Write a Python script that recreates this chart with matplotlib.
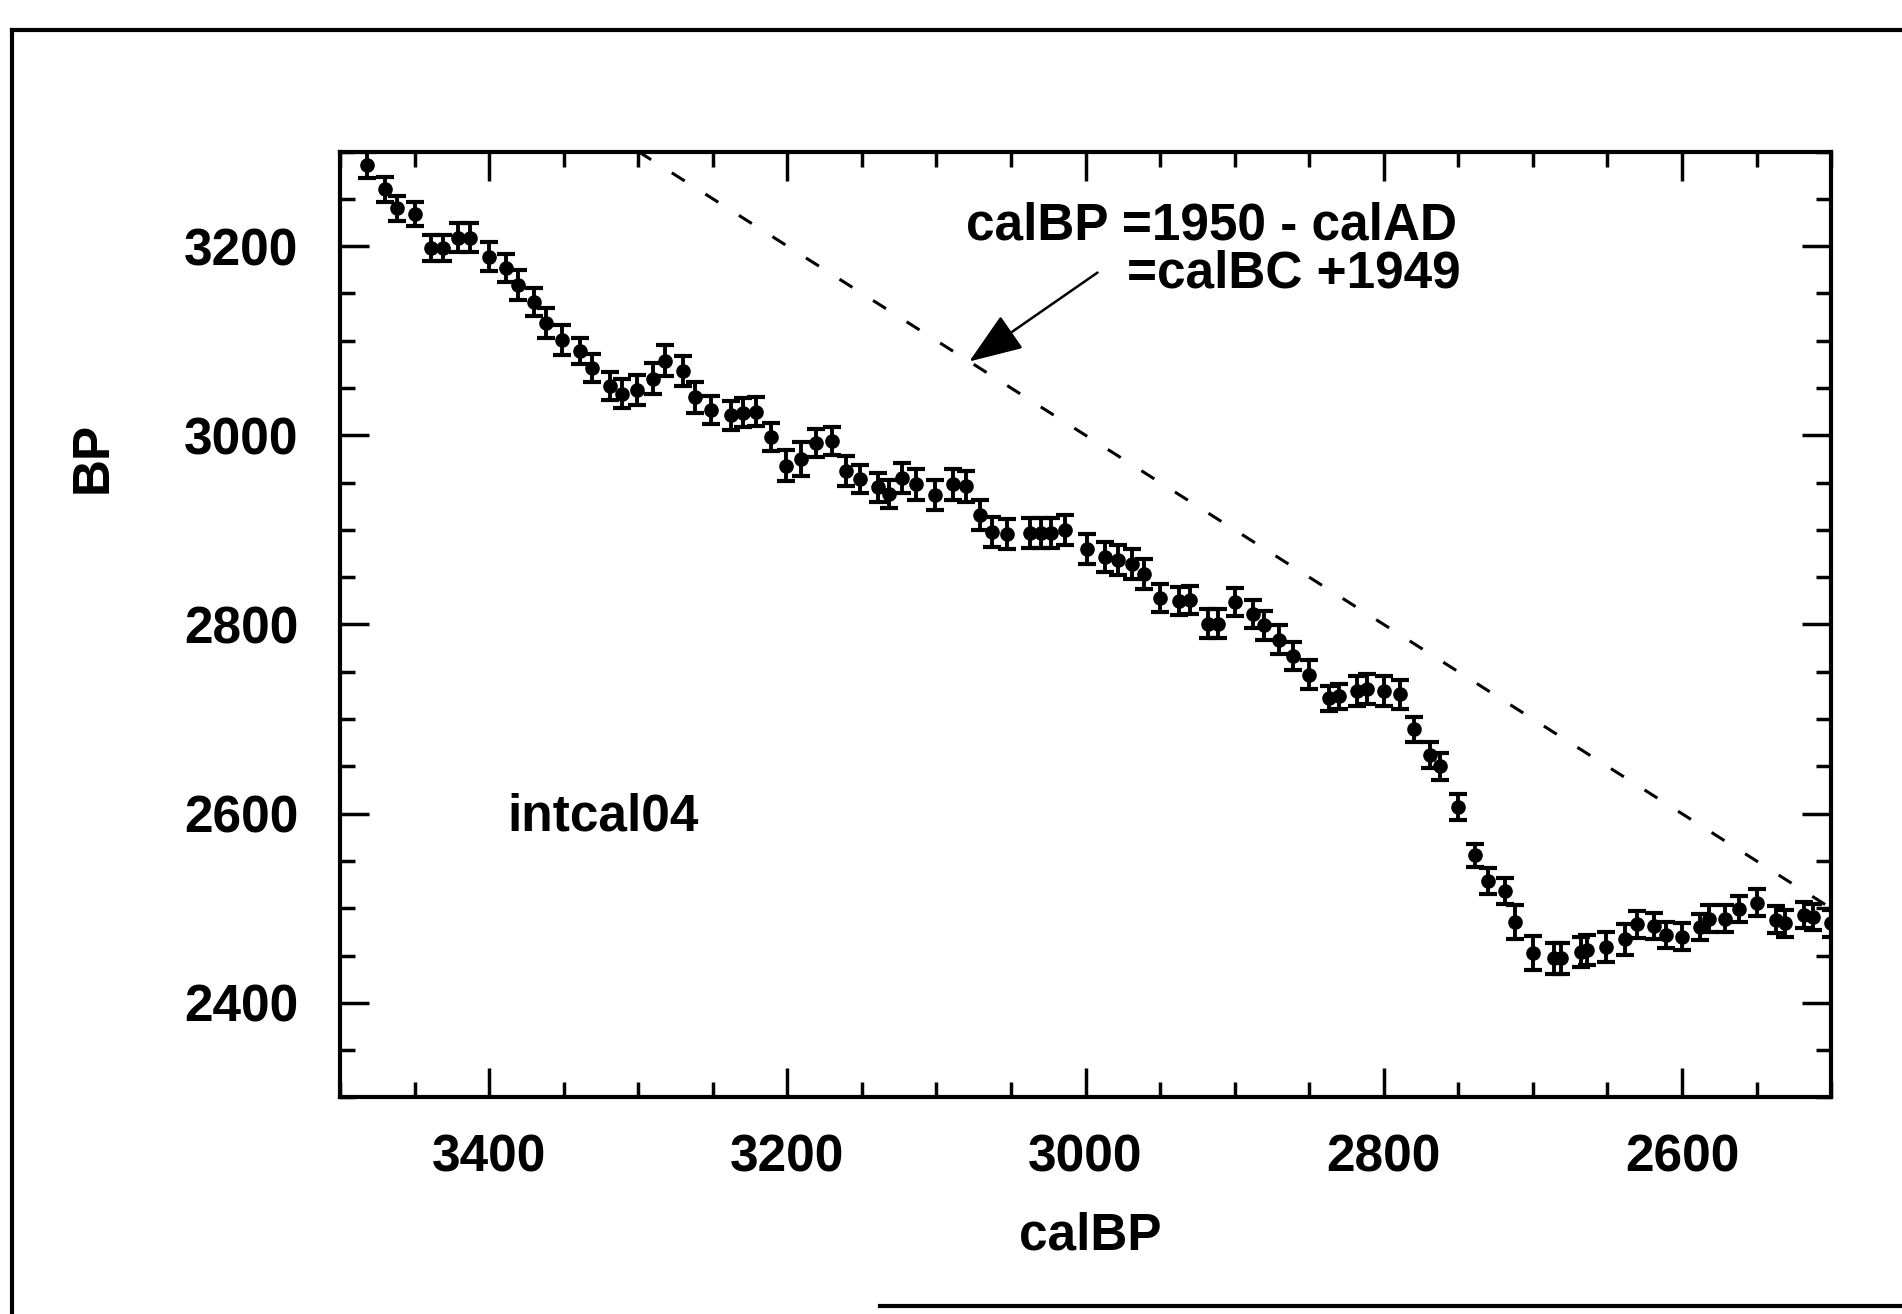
import matplotlib
matplotlib.use("Agg")
import matplotlib.pyplot as plt
from matplotlib.lines import Line2D
from matplotlib.ticker import MultipleLocator, FixedLocator

# ---- data (intcal04 segment) ----
cal_bp = [3482, 3470, 3462, 3450, 3439, 3431, 3421, 3413, 3400, 3389,
          3381, 3370, 3362, 3351, 3339, 3331, 3319, 3311, 3301, 3290,
          3282, 3270, 3262, 3251, 3238, 3230, 3221, 3211, 3201, 3191,
          3181, 3170, 3161, 3151, 3139, 3132, 3123, 3114, 3101, 3089,
          3080, 3071, 3063, 3053, 3037, 3030, 3023, 3014, 2999, 2987,
          2978, 2969, 2961, 2950, 2937, 2930, 2918, 2911, 2900, 2888,
          2880, 2870, 2861, 2850, 2837, 2830, 2818, 2811, 2800, 2789,
          2780, 2769, 2762, 2750, 2739, 2730, 2719, 2712, 2700, 2686,
          2681, 2668, 2664, 2651, 2638, 2630, 2619, 2611, 2600, 2588,
          2582, 2571, 2562, 2550, 2537, 2531, 2518, 2512, 2500]

bp = [3286, 3260, 3240, 3234, 3198, 3198, 3209, 3209, 3189, 3177,
      3159, 3141, 3119, 3101, 3089, 3071, 3052, 3044, 3048, 3060,
      3079, 3068, 3040, 3027, 3021, 3024, 3025, 2998, 2968, 2975,
      2992, 2994, 2962, 2954, 2945, 2938, 2955, 2948, 2937, 2948,
      2946, 2916, 2898, 2896, 2897, 2897, 2897, 2900, 2880, 2871,
      2868, 2864, 2853, 2828, 2825, 2826, 2801, 2801, 2824, 2811,
      2799, 2784, 2767, 2747, 2722, 2724, 2730, 2732, 2730, 2726,
      2689, 2662, 2650, 2607, 2556, 2529, 2518, 2485, 2453, 2447,
      2447, 2454, 2456, 2459, 2467, 2483, 2481, 2472, 2470, 2480,
      2489, 2489, 2499, 2506, 2488, 2484, 2493, 2491, 2484]

bp_err = [14, 13, 13, 13, 14, 14, 15, 15, 15, 15,
          16, 15, 16, 16, 14, 15, 15, 15, 16, 16,
          16, 16, 16, 15, 15, 15, 15, 15, 16, 18,
          15, 15, 16, 15, 15, 15, 16, 16, 16, 16,
          16, 16, 16, 16, 16, 16, 16, 16, 16, 16,
          16, 16, 16, 15, 15, 15, 15, 15, 15, 15,
          15, 15, 15, 15, 13, 13, 16, 16, 16, 15,
          13, 14, 14, 14, 12, 14, 14, 18, 18, 16,
          16, 16, 16, 16, 16, 14, 14, 14, 14, 14,
          14, 14, 14, 14, 14, 14, 14, 14, 14]

# calBP = BP reference line
line_cal = [3300, 2500]
line_bp = [3300, 2500]

x_ticks = [3400, 3200, 3000, 2800, 2600]
y_ticks = [2400, 2600, 2800, 3000, 3200]

plt.rcParams['font.family'] = ['Liberation Sans', 'DejaVu Sans']
plt.rcParams['font.weight'] = 'bold'

FS = 37

fig = plt.figure(figsize=(19.02, 13.14), dpi=100)
ax = fig.add_axes([0.1788, 0.1648, 0.9627 - 0.1788, 0.8847 - 0.1648])

ax.errorbar(cal_bp, bp, yerr=bp_err, fmt='o', color='black', ms=9.5,
            elinewidth=2.8, capsize=6.5, capthick=3.0)
ax.plot(line_cal, line_bp, color='black', lw=2.2, dashes=(5, 8))

ax.set_xlim(3500, 2500)
ax.set_ylim(2300, 3300)
ax.xaxis.set_major_locator(FixedLocator(x_ticks))
ax.yaxis.set_major_locator(FixedLocator(y_ticks))
ax.xaxis.set_minor_locator(MultipleLocator(50))
ax.yaxis.set_minor_locator(MultipleLocator(50))
ax.tick_params(which='both', direction='in', top=True, right=True,
               width=2.5, labelsize=FS)
ax.tick_params(which='major', length=21)
ax.tick_params(which='minor', length=11)
ax.tick_params(axis='x', pad=26)
ax.tick_params(axis='y', pad=30)
for s in ax.spines.values():
    s.set_linewidth(3.0)

ax.text(3080, 3221, 'calBP =1950 - calAD', ha='left', va='center',
        fontsize=FS, fontweight='bold')
ax.text(2972, 3170, '=calBC +1949', ha='left', va='center',
        fontsize=FS, fontweight='bold')
ax.text(3388, 2596, 'intcal04', ha='left', va='center',
        fontsize=FS, fontweight='bold')
ax.annotate('', xy=(3078, 3078), xytext=(2992, 3172),
            arrowprops=dict(arrowstyle='-|>,head_length=1.2,head_width=0.45',
                            color='black', lw=1.8, mutation_scale=28,
                            shrinkA=0, shrinkB=0))

fig.text(1090 / 1902, 1 - 1236 / 1314, 'calBP', ha='center', va='center',
         fontsize=FS, fontweight='bold')
fig.text(93 / 1902, 1 - 457 / 1314, 'BP', ha='center', va='center',
         rotation=90, fontsize=FS, fontweight='bold')

# outer frame of the scanned page
fy_top = 1 - 30 / 1314
fig.add_artist(Line2D([12 / 1902, 12 / 1902], [0, fy_top],
                      transform=fig.transFigure, color='black', lw=3))
fig.add_artist(Line2D([12 / 1902, 1], [fy_top, fy_top],
                      transform=fig.transFigure, color='black', lw=3))
fig.add_artist(Line2D([880 / 1902, 1], [1 - 1306 / 1314, 1 - 1306 / 1314],
                      transform=fig.transFigure, color='black', lw=3))

fig.savefig('out.png', dpi=100)
